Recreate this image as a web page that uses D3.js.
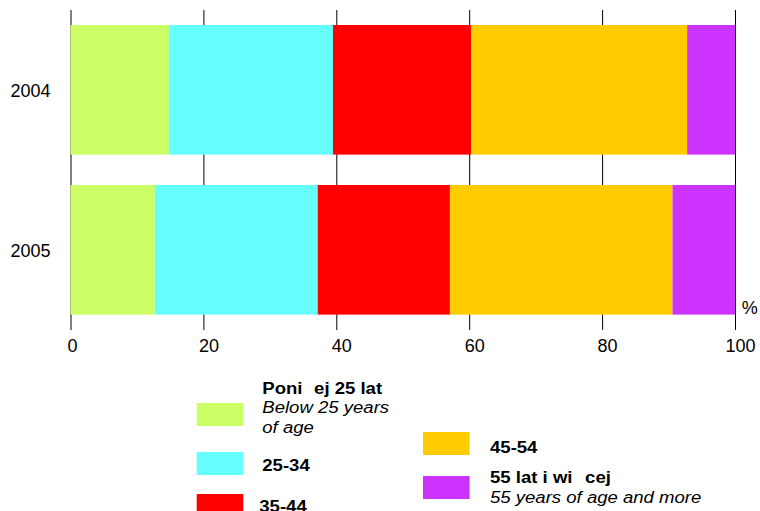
<!DOCTYPE html>
<html>
<head>
<meta charset="utf-8">
<script src="https://cdn.jsdelivr.net/npm/d3@7"></script>
<style>
  html, body { margin: 0; padding: 0; background: #fff; }
  svg { display: block; font-family: "Liberation Sans", Arial, sans-serif; }
</style>
</head>
<body>
<svg id="chart" width="760" height="511"></svg>
<script>
// ---- Data ----
const years = ["2004", "2005"];
const seriesKeys = ["lt25", "25-34", "35-44", "45-54", "55plus"];
const seriesColors = ["#CCFF66", "#66FFFF", "#FF0000", "#FFCC00", "#CC33FF"];
const values2004 = [14.8, 24.7, 20.8, 32.5, 7.2];
const values2005 = [12.7, 24.5, 19.9, 33.5, 9.4];
const xTicks = [0, 20, 40, 60, 80, 100];
const unitLabel = "%";

// legend text: bold parts (middle part of a 3-part label is the glyph the reference leaves blank), italic lines
const legendItems = [
  { key: "lt25",   bold: ["Poni", "ż", "ej 25 lat"], italic: ["Below 25 years", "of age"] },
  { key: "25-34",  bold: ["25-34"], italic: [] },
  { key: "35-44",  bold: ["35-44"], italic: [] },
  { key: "45-54",  bold: ["45-54"], italic: [] },
  { key: "55plus", bold: ["55 lat i wi", "ę", "cej"], italic: ["55 years of age and more"] }
];

const rows = years.map((y, i) => {
  const vals = i === 0 ? values2004 : values2005;
  const o = { year: y };
  seriesKeys.forEach((k, j) => o[k] = vals[j]);
  return o;
});

const svg = d3.select("#chart");

const x = d3.scaleLinear().domain([0, 100]).range([70.5, 735]);
const y = d3.scaleBand().domain(years).range([9.8, 329.8])
  .paddingInner(0.19).paddingOuter(0.095);
const color = d3.scaleOrdinal().domain(seriesKeys).range(seriesColors);

// X axis with gridlines
const xAxis = svg.append("g")
  .attr("transform", "translate(0,330)")
  .call(d3.axisBottom(x).tickValues(xTicks).tickFormat(d3.format("d"))
    .tickSizeInner(-320).tickSizeOuter(0).tickPadding(9.2));
xAxis.select(".domain").remove();
xAxis.selectAll(".tick line").attr("stroke", "#000").attr("stroke-width", 1);
xAxis.selectAll(".tick text")
  .attr("font-size", 18)
  .attr("font-family", "Liberation Sans, Arial, sans-serif")
  .attr("fill", "#000")
  .attr("dx", d => d === 0 ? 1.5 : 5);

// Y axis labels
const yAxis = svg.append("g")
  .attr("transform", "translate(70.5,0)")
  .call(d3.axisLeft(y).tickSize(0).tickPadding(20));
yAxis.select(".domain").remove();
yAxis.selectAll(".tick text")
  .attr("font-size", 18)
  .attr("font-family", "Liberation Sans, Arial, sans-serif")
  .attr("fill", "#000")
  .attr("dy", "0.41em");

// Stacked bars
const stacked = d3.stack().keys(seriesKeys)(rows);
svg.append("g").selectAll("g")
  .data(stacked)
  .join("g")
  .attr("fill", d => color(d.key))
  .selectAll("rect")
  .data(d => d)
  .join("rect")
  .attr("x", d => x(d[0]))
  .attr("width", d => x(d[1]) - x(d[0]))
  .attr("y", d => y(d.data.year))
  .attr("height", y.bandwidth());

// Percent label
svg.append("text")
  .attr("x", x(100) + 6.7)
  .attr("y", 314)
  .attr("font-size", 18)
  .attr("fill", "#000")
  .text(unitLabel);

// Legend
const legendPos = {
  "lt25":   { sx: 196.7, sy: 403, tx: 262.3, ty: 394 },
  "25-34":  { sx: 196.7, sy: 452, tx: 262.3, ty: 471 },
  "35-44":  { sx: 196.7, sy: 494, tx: 259.3, ty: 512 },
  "45-54":  { sx: 423,   sy: 432, tx: 490,   ty: 452.7 },
  "55plus": { sx: 423,   sy: 476, tx: 490,   ty: 483.3 }
};
const stretch = 1.16;
const legend = svg.append("g");
legendItems.forEach(item => {
  const p = legendPos[item.key];
  legend.append("rect")
    .attr("x", p.sx).attr("y", p.sy)
    .attr("width", 46.6).attr("height", 23)
    .attr("fill", color(item.key));
  const t = legend.append("text")
    .attr("transform", `translate(${p.tx},${p.ty}) scale(${stretch},1)`)
    .attr("font-size", 16).attr("font-weight", "bold").attr("fill", "#000");
  item.bold.forEach((part, i) => {
    const ts = t.append("tspan").text(part);
    if (item.bold.length === 3 && i === 1) ts.attr("fill-opacity", 0).attr("dx", 1);
    if (item.bold.length === 3 && i === 2) ts.attr("dx", 1);
  });
  item.italic.forEach((line, i) => {
    legend.append("text")
      .attr("transform", `translate(${p.tx},${p.ty + 19.4 * (i + 1)}) scale(${stretch},1)`)
      .attr("font-size", 16).attr("font-style", "italic").attr("fill", "#000")
      .text(line);
  });
});
</script>
</body>
</html>
